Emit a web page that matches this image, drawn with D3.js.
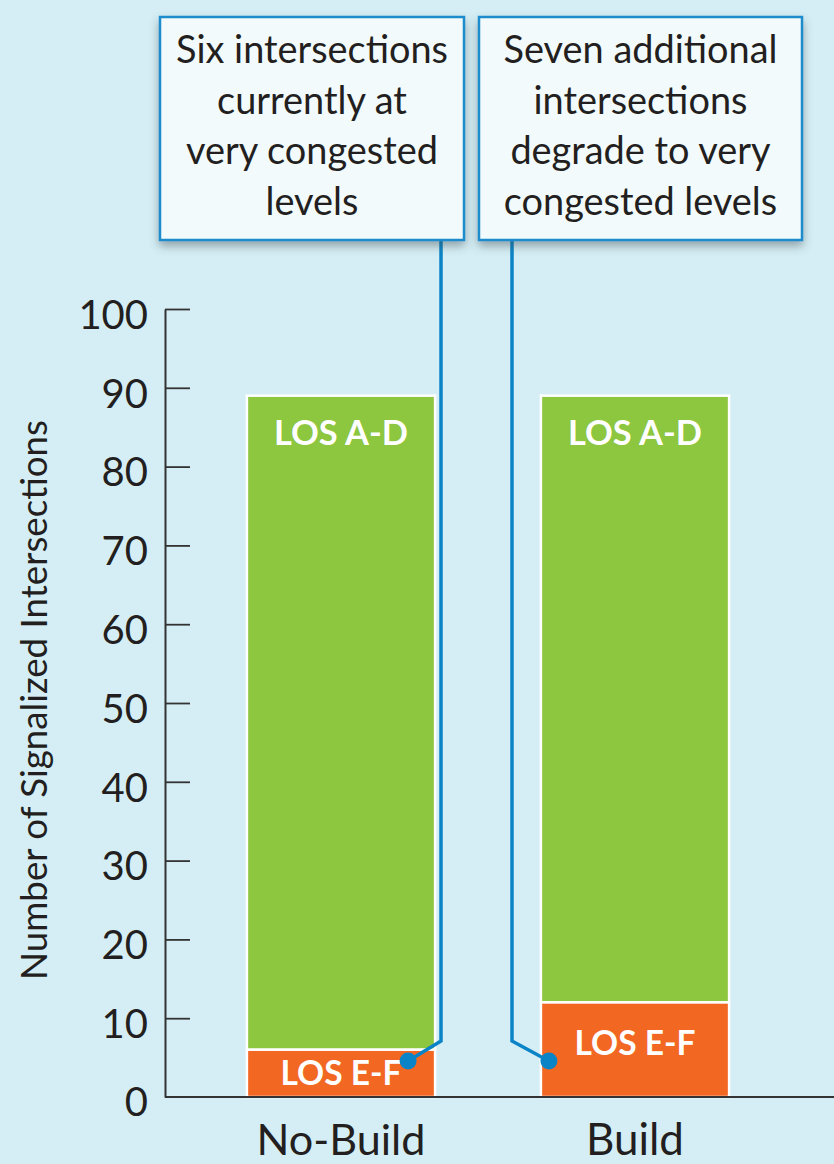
<!DOCTYPE html>
<html>
<head>
<meta charset="utf-8">
<script src="https://cdn.jsdelivr.net/npm/d3@7"></script>
<style>
  html, body { margin: 0; padding: 0; background: #d5eef5; }
  svg { display: block; }
  text { font-family: Lato, "Open Sans", sans-serif; fill: #231f20; }
</style>
</head>
<body>
<svg id="chart" width="834" height="1164"></svg>
<script>
// ---- data ----
const categories = ["No-Build", "Build"];
const losEF = [6, 12];
const losAD = [83, 77];
const segmentLabels = ["LOS A-D", "LOS E-F"];
const yTicks = [0, 10, 20, 30, 40, 50, 60, 70, 80, 90, 100];
const yTitle = "Number of Signalized Intersections";
const annotation1 = ["Six intersections", "currently at", "very congested", "levels"];
const annotation2 = ["Seven additional", "intersections", "degrade to very", "congested levels"];

const colors = { ad: "#8dc63f", ef: "#f26722", line: "#0a84c6", box: "#1a8ccc", boxFill: "#f2fafc", axis: "#333333" };

const W = 834, H = 1164;
const svg = d3.select("#chart");

function fitText(sel, target) {
  const node = sel.node();
  const len = node.getComputedTextLength();
  const fs = parseFloat(sel.style("font-size"));
  sel.style("font-size", (fs * target / len) + "px");
}

svg.append("rect").attr("width", W).attr("height", H).attr("fill", "#d5eef5");

const defs = svg.append("defs");
const f = defs.append("filter").attr("id", "shadow").attr("x", "-20%").attr("y", "-20%").attr("width", "140%").attr("height", "150%");
f.append("feDropShadow").attr("dx", 0).attr("dy", 5).attr("stdDeviation", 5)
  .attr("flood-color", "#3a4a50").attr("flood-opacity", 0.45);

const y = d3.scaleLinear().domain([0, 100]).range([1097, 309]);
const x = d3.scaleBand().domain(categories).range([194, 782]).paddingInner(0.36).paddingOuter(0.18);

// ---- bars ----
const bars = svg.append("g");
categories.forEach((c, i) => {
  const x0 = x(c), bw = x.bandwidth();
  const ef = losEF[i], ad = losAD[i];
  bars.append("rect").attr("x", x0).attr("y", y(ef + ad)).attr("width", bw).attr("height", y(ef) - y(ef + ad))
    .attr("fill", colors.ad).attr("stroke", "#ffffff").attr("stroke-width", 2.5);
  bars.append("rect").attr("x", x0).attr("y", y(ef)).attr("width", bw).attr("height", y(0) - y(ef))
    .attr("fill", colors.ef).attr("stroke", "#ffffff").attr("stroke-width", 2.5);

  const t1 = bars.append("text").attr("x", x0 + bw / 2).attr("y", y(ef + ad) + 49)
    .attr("text-anchor", "middle").style("font-weight", "700").style("font-size", "36px")
    .style("fill", "#ffffff").text(segmentLabels[0]);
  fitText(t1, 134);
  const efH = y(0) - y(ef);
  const t2 = bars.append("text").attr("x", x0 + bw / 2).attr("y", y(ef) + Math.min(efH / 2 + 12, 53))
    .attr("text-anchor", "middle").style("font-weight", "700").style("font-size", "36px")
    .style("fill", "#ffffff").text(segmentLabels[1]);
  fitText(t2, 121);
});

// ---- axes ----
const yAxis = d3.axisLeft(y).tickValues(yTicks.slice(1)).tickSize(-25).tickSizeOuter(0).tickPadding(17)
  .tickFormat(d3.format("d"));
const gy = svg.append("g").attr("transform", "translate(165,0)").call(yAxis);
gy.select(".domain").attr("stroke", colors.axis).attr("stroke-width", 2);
gy.selectAll(".tick line").attr("stroke", colors.axis).attr("stroke-width", 1.8);
gy.selectAll(".tick text").style("font-size", "40px").attr("dy", "0.48em").style("fill", "#231f20")
  .attr("font-family", null);
// zero label
svg.append("text").attr("x", 148).attr("y", y(0)).attr("dy", "0.48em").attr("text-anchor", "end")
  .style("font-size", "40px").text(yTicks[0]);
// baseline
svg.append("line").attr("x1", 165).attr("x2", W).attr("y1", y(0)).attr("y2", y(0))
  .attr("stroke", colors.axis).attr("stroke-width", 2.2);

// category labels
categories.forEach((c, i) => {
  const t = svg.append("text").attr("x", x(c) + x.bandwidth() / 2).attr("y", 1155)
    .attr("text-anchor", "middle").style("font-size", "42px").text(c);
  fitText(t, i === 0 ? 169 : 98);
});

// y title
const yt = svg.append("text").attr("transform", "translate(47,700) rotate(-90)")
  .attr("text-anchor", "middle").style("font-size", "30px").text(yTitle);
fitText(yt, 560);

// ---- annotations ----
const boxes = [
  { lines: annotation1, x0: 160, x1: 464, lineX: 441, dotX: x(categories[0]) + x.bandwidth() - 27 },
  { lines: annotation2, x0: 479, x1: 802, lineX: 512, dotX: x(categories[1]) + 8 }
];
const boxTop = 17, boxBottom = 240;
const dotY = y(0) - 36, bendY = y(0) - 56;

boxes.forEach(b => {
  svg.append("polyline")
    .attr("points", [[b.lineX, boxBottom], [b.lineX, bendY], [b.dotX, dotY]].map(p => p.join(",")).join(" "))
    .attr("fill", "none").attr("stroke", colors.line).attr("stroke-width", 3.5);
  svg.append("circle").attr("cx", b.dotX).attr("cy", dotY).attr("r", 8.5).attr("fill", colors.line);
});

let boxFont = null;
boxes.forEach((b, bi) => {
  const g = svg.append("g");
  g.append("rect").attr("x", b.x0).attr("y", boxTop).attr("width", b.x1 - b.x0).attr("height", boxBottom - boxTop)
    .attr("fill", colors.boxFill).attr("stroke", colors.box).attr("stroke-width", 2.5)
    .attr("filter", "url(#shadow)");
  b.lines.forEach((ln, li) => {
    const t = g.append("text").attr("x", (b.x0 + b.x1) / 2).attr("y", 63 + li * 50.5)
      .attr("text-anchor", "middle").style("font-size", "36px").text(ln);
    if (bi === 0 && li === 0) { fitText(t, 272); boxFont = t.style("font-size"); }
    else t.style("font-size", boxFont);
  });
});
</script>
</body>
</html>
